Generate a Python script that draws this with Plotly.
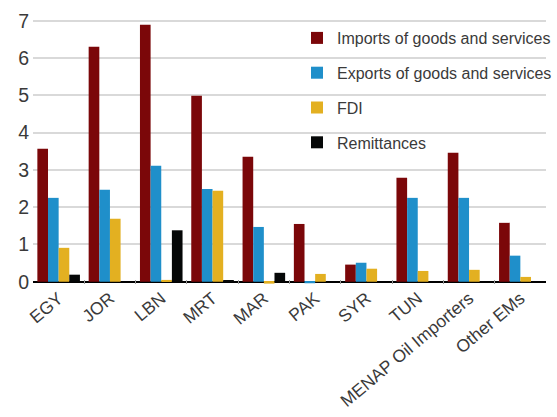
import plotly.graph_objects as go

categories = ["EGY", "JOR", "LBN", "MRT", "MAR", "PAK", "SYR", "TUN",
              "MENAP Oil Importers", "Other EMs"]

imports_gs = [3.57, 6.30, 6.89, 4.99, 3.35, 1.55, 0.46, 2.79, 3.46, 1.58]
exports_gs = [2.25, 2.47, 3.11, 2.49, 1.47, -0.04, 0.51, 2.25, 2.25, 0.70]
fdi = [0.91, 1.69, 0.05, 2.44, -0.05, 0.21, 0.35, 0.29, 0.32, 0.13]
remittances = [0.19, None, 1.38, 0.03, 0.24, None, None, None, None, None]

series = [
    ("Imports of goods and services", imports_gs, "#7b0709"),
    ("Exports of goods and services", exports_gs, "#1f8fca"),
    ("FDI", fdi, "#e3b021"),
    ("Remittances", remittances, "#050707"),
]

text_color = "#3a3a3a"
font_family = "Liberation Sans, Arial, sans-serif"

fig = go.Figure()
for i, (name, vals, color) in enumerate(series):
    fig.add_trace(go.Bar(
        x=categories, y=vals, name=name,
        marker=dict(color=color, line=dict(width=0)),
        legendgroup=f"g{i}",
    ))

fig.update_layout(
    width=557, height=417,
    margin=dict(l=33, r=0, t=17, b=133),
    paper_bgcolor="white", plot_bgcolor="white",
    barmode="group", bargap=0.17, bargroupgap=0,
    font=dict(family=font_family, color=text_color),
    showlegend=True,
    legend=dict(
        x=0.515, xanchor="left", y=0.985, yanchor="top",
        font=dict(size=16, color=text_color),
        bgcolor="rgba(0,0,0,0)",
        tracegroupgap=11, traceorder="grouped",
        itemwidth=30,
    ),
)

fig.update_xaxes(
    type="category",
    tickangle=-40,
    tickfont=dict(size=17.5, color=text_color),
    showgrid=False,
    showline=False,
    ticks="inside", ticklen=4, tickcolor="#9a9a9a", tickwidth=1,
    tickson="boundaries",
    automargin=False,
)

fig.update_yaxes(
    range=[-0.06, 7.1],
    tickvals=[0, 1, 2, 3, 4, 5, 6, 7],
    tickfont=dict(size=19.5, color=text_color),
    showgrid=True, gridcolor="#d9d9d9", gridwidth=1.5,
    zeroline=True, zerolinecolor="#000000", zerolinewidth=1.5,
    showline=False, ticks="",
    ticklabelstandoff=3,
    automargin=False,
)

fig.write_html("out.html")
